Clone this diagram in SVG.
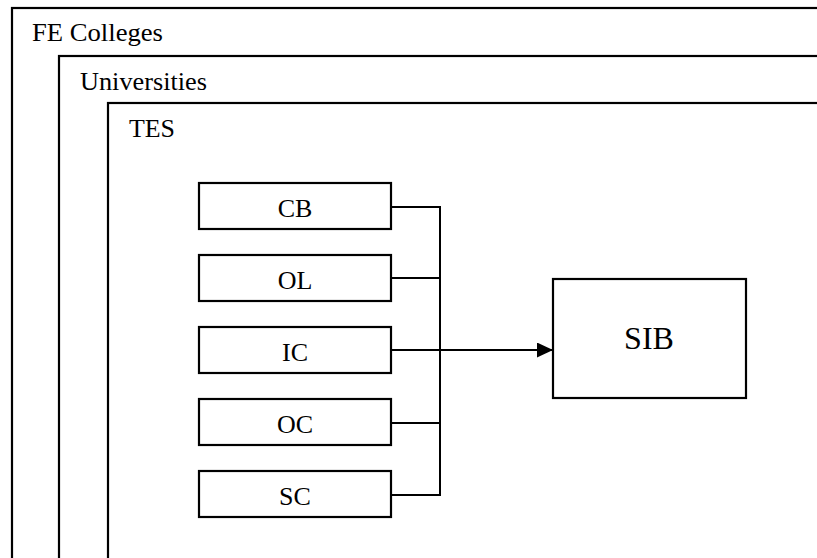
<svg xmlns="http://www.w3.org/2000/svg" width="817" height="558" viewBox="0 0 817 558">
  <style>
    .frame { fill: none; stroke: #000; stroke-width: 2.2; }
    .box { fill: #fff; stroke: #000; stroke-width: 2.2; }
    .wire { fill: none; stroke: #000; stroke-width: 2; }
    .head { font-family: "Liberation Serif", "Times New Roman", serif; font-size: 25px; fill: #000; }
    .lbl { font-family: "Liberation Serif", "Times New Roman", serif; font-size: 26px; fill: #000; text-anchor: middle; }
    .big { font-family: "Liberation Serif", "Times New Roman", serif; font-size: 32px; fill: #000; text-anchor: middle; }
  </style>
  <defs>
    <marker id="arrow" markerWidth="16" markerHeight="15" refX="15" refY="7.5" orient="auto" markerUnits="userSpaceOnUse">
      <path d="M0,0 L16,7.5 L0,15 Z" fill="#000"/>
    </marker>
  </defs>
  <rect width="817" height="558" fill="#fff"/>

  <!-- nested scopes, open to the right and bottom -->
  <g id="fe-colleges">
    <rect class="frame" x="12" y="8" width="830" height="580"/>
    <text class="head" x="32" y="41" textLength="131" lengthAdjust="spacingAndGlyphs">FE Colleges</text>
  </g>
  <g id="universities">
    <rect class="frame" x="59" y="56" width="780" height="530"/>
    <text class="head" x="80" y="90" textLength="127" lengthAdjust="spacingAndGlyphs">Universities</text>
  </g>
  <g id="tes">
    <rect class="frame" x="108" y="103" width="730" height="480"/>
    <text class="head" x="129" y="137" textLength="46" lengthAdjust="spacingAndGlyphs">TES</text>
  </g>

  <!-- connectors -->
  <g id="connectors">
    <path class="wire" d="M391,207 H440 M391,278 H440 M391,423 H440 M391,495 H440 M440,206 V496"/>
    <path class="wire" d="M391,350 H552" marker-end="url(#arrow)"/>
  </g>

  <g id="cb">
    <rect class="box" x="199" y="183" width="192" height="46"/>
    <text class="lbl" x="295" y="217">CB</text>
  </g>
  <g id="ol">
    <rect class="box" x="199" y="255" width="192" height="46"/>
    <text class="lbl" x="295" y="289">OL</text>
  </g>
  <g id="ic">
    <rect class="box" x="199" y="327" width="192" height="46"/>
    <text class="lbl" x="295" y="361">IC</text>
  </g>
  <g id="oc">
    <rect class="box" x="199" y="399" width="192" height="46"/>
    <text class="lbl" x="295" y="433">OC</text>
  </g>
  <g id="sc">
    <rect class="box" x="199" y="471" width="192" height="46"/>
    <text class="lbl" x="295" y="505">SC</text>
  </g>

  <g id="sib">
    <rect class="box" x="553" y="279" width="193" height="119"/>
    <text class="big" x="649" y="349">SIB</text>
  </g>
</svg>
